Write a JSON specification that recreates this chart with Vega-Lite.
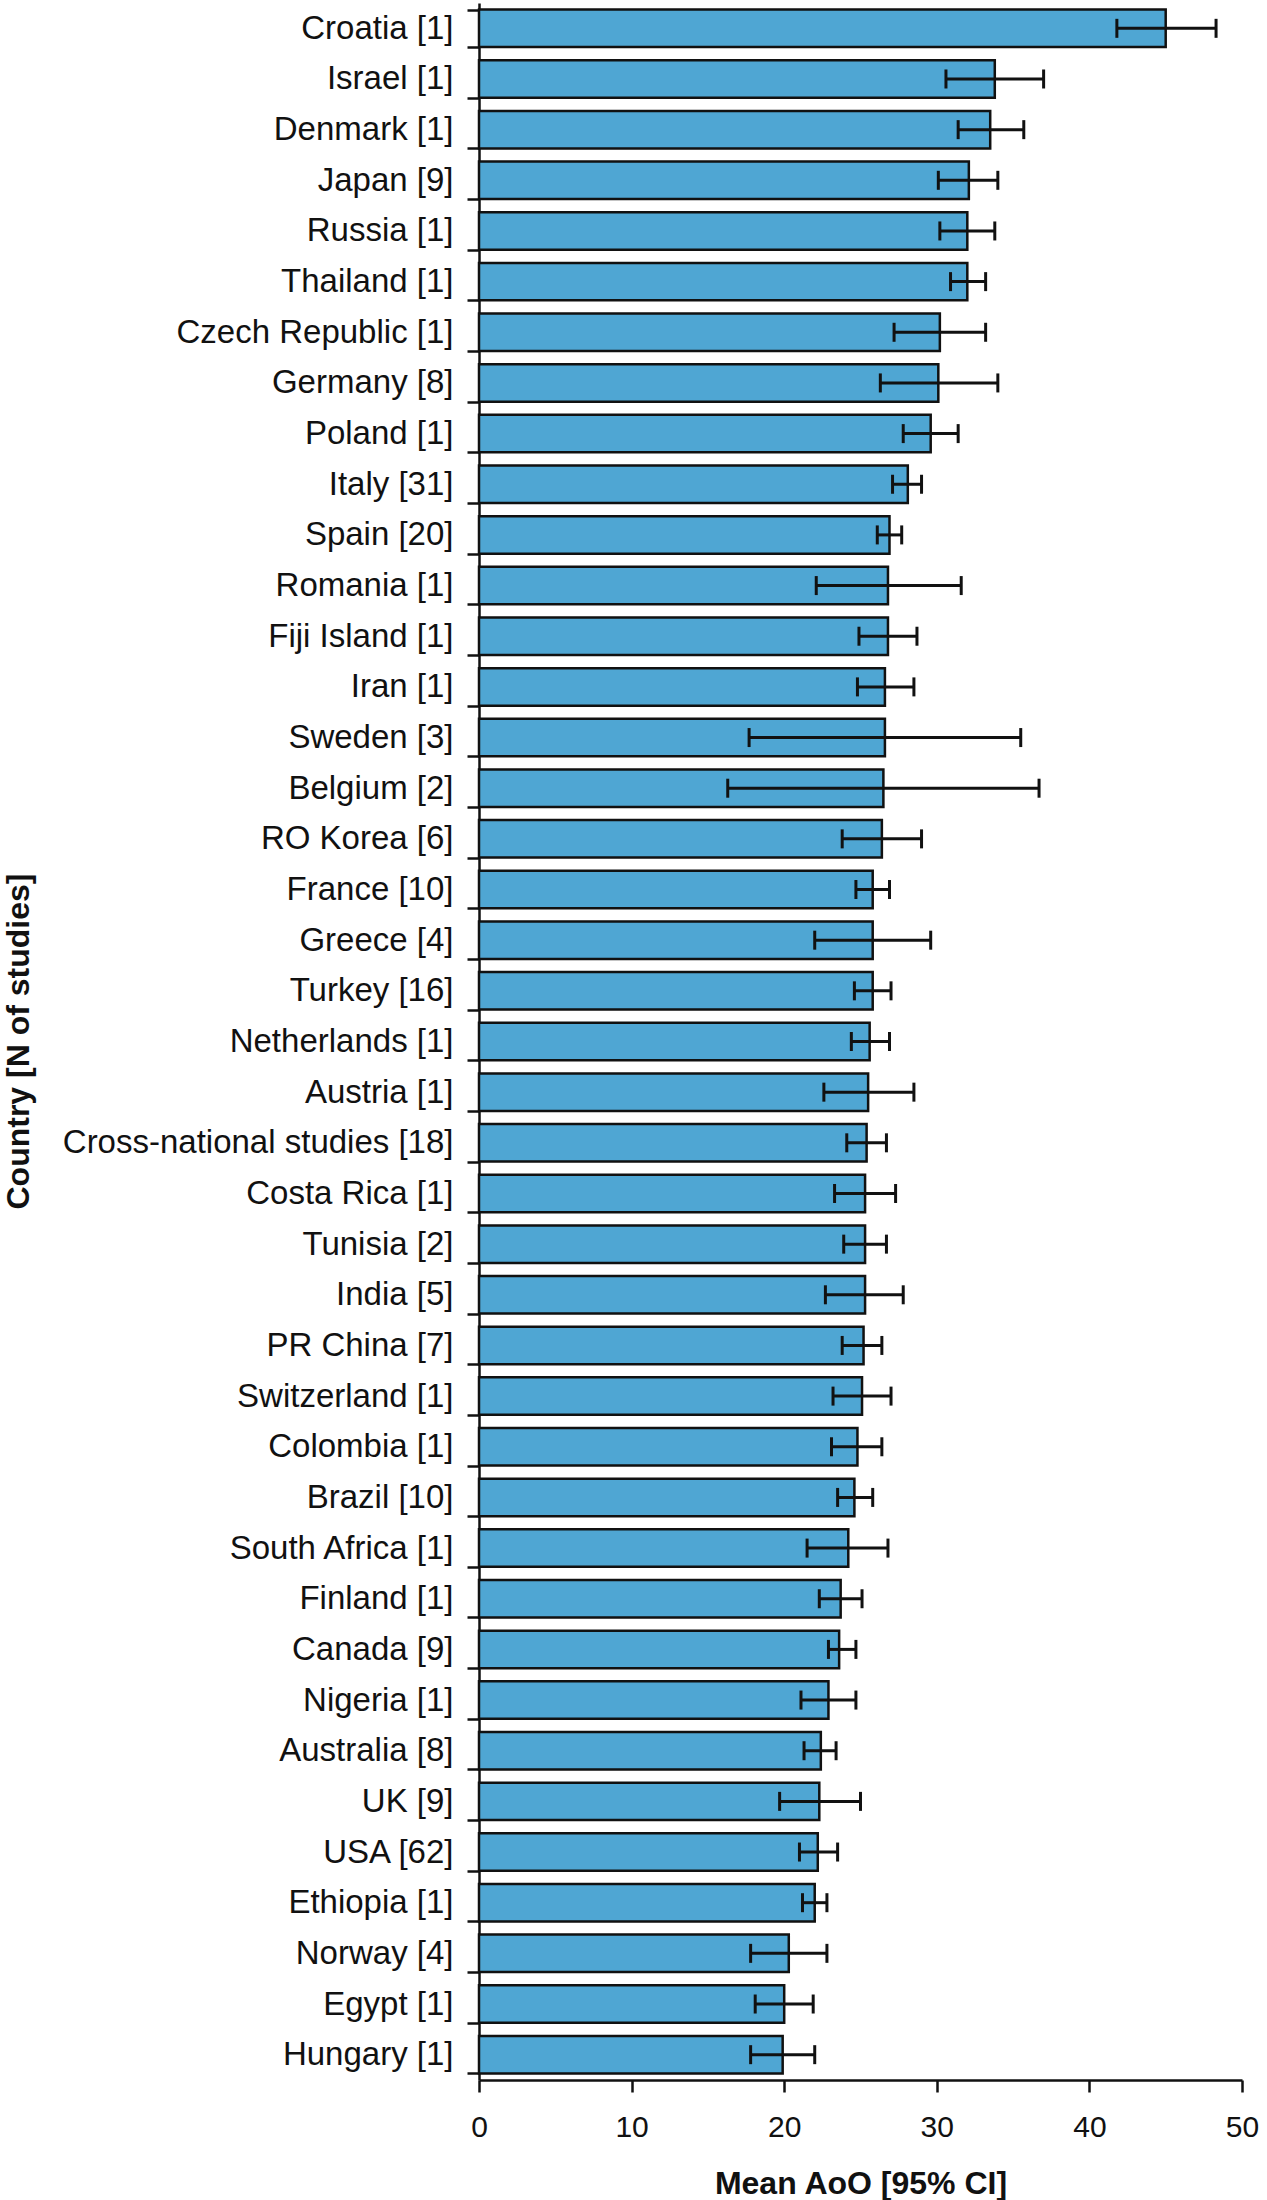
{
  "$schema": "https://vega.github.io/schema/vega-lite/v6.json",
  "width": 763,
  "height": 2077,
  "autosize": {"type": "none"},
  "padding": {"left": 479, "top": 3, "right": 25, "bottom": 120},
  "background": "white",
  "config": {"view": {"stroke": null}, "font": "Liberation Sans"},
  "data": {
    "values": [
      {"country": "Croatia [1]", "mean": 45.0, "lo": 41.8, "hi": 48.3},
      {"country": "Israel [1]", "mean": 33.8, "lo": 30.6, "hi": 37.0},
      {"country": "Denmark [1]", "mean": 33.5, "lo": 31.4, "hi": 35.7},
      {"country": "Japan [9]", "mean": 32.1, "lo": 30.1, "hi": 34.0},
      {"country": "Russia [1]", "mean": 32.0, "lo": 30.2, "hi": 33.8},
      {"country": "Thailand [1]", "mean": 32.0, "lo": 30.9, "hi": 33.2},
      {"country": "Czech Republic [1]", "mean": 30.2, "lo": 27.2, "hi": 33.2},
      {"country": "Germany [8]", "mean": 30.1, "lo": 26.3, "hi": 34.0},
      {"country": "Poland [1]", "mean": 29.6, "lo": 27.8, "hi": 31.4},
      {"country": "Italy [31]", "mean": 28.1, "lo": 27.1, "hi": 29.0},
      {"country": "Spain [20]", "mean": 26.9, "lo": 26.1, "hi": 27.7},
      {"country": "Romania [1]", "mean": 26.8, "lo": 22.1, "hi": 31.6},
      {"country": "Fiji Island [1]", "mean": 26.8, "lo": 24.9, "hi": 28.7},
      {"country": "Iran [1]", "mean": 26.6, "lo": 24.8, "hi": 28.5},
      {"country": "Sweden [3]", "mean": 26.6, "lo": 17.7, "hi": 35.5},
      {"country": "Belgium [2]", "mean": 26.5, "lo": 16.3, "hi": 36.7},
      {"country": "RO Korea [6]", "mean": 26.4, "lo": 23.8, "hi": 29.0},
      {"country": "France [10]", "mean": 25.8, "lo": 24.7, "hi": 26.9},
      {"country": "Greece [4]", "mean": 25.8, "lo": 22.0, "hi": 29.6},
      {"country": "Turkey [16]", "mean": 25.8, "lo": 24.6, "hi": 27.0},
      {"country": "Netherlands [1]", "mean": 25.6, "lo": 24.4, "hi": 26.9},
      {"country": "Austria [1]", "mean": 25.5, "lo": 22.6, "hi": 28.5},
      {"country": "Cross-national studies [18]", "mean": 25.4, "lo": 24.1, "hi": 26.7},
      {"country": "Costa Rica [1]", "mean": 25.3, "lo": 23.3, "hi": 27.3},
      {"country": "Tunisia [2]", "mean": 25.3, "lo": 23.9, "hi": 26.7},
      {"country": "India [5]", "mean": 25.3, "lo": 22.7, "hi": 27.8},
      {"country": "PR China [7]", "mean": 25.2, "lo": 23.8, "hi": 26.4},
      {"country": "Switzerland [1]", "mean": 25.1, "lo": 23.2, "hi": 27.0},
      {"country": "Colombia [1]", "mean": 24.8, "lo": 23.1, "hi": 26.4},
      {"country": "Brazil [10]", "mean": 24.6, "lo": 23.5, "hi": 25.8},
      {"country": "South Africa [1]", "mean": 24.2, "lo": 21.5, "hi": 26.8},
      {"country": "Finland [1]", "mean": 23.7, "lo": 22.3, "hi": 25.1},
      {"country": "Canada [9]", "mean": 23.6, "lo": 22.9, "hi": 24.7},
      {"country": "Nigeria [1]", "mean": 22.9, "lo": 21.1, "hi": 24.7},
      {"country": "Australia [8]", "mean": 22.4, "lo": 21.3, "hi": 23.4},
      {"country": "UK [9]", "mean": 22.3, "lo": 19.7, "hi": 25.0},
      {"country": "USA [62]", "mean": 22.2, "lo": 21.0, "hi": 23.5},
      {"country": "Ethiopia [1]", "mean": 22.0, "lo": 21.2, "hi": 22.8},
      {"country": "Norway [4]", "mean": 20.3, "lo": 17.8, "hi": 22.8},
      {"country": "Egypt [1]", "mean": 20.0, "lo": 18.1, "hi": 21.9},
      {"country": "Hungary [1]", "mean": 19.9, "lo": 17.8, "hi": 22.0}
    ]
  },
  "encoding": {
    "y": {
      "field": "country",
      "type": "nominal",
      "sort": null,
      "scale": {"paddingInner": 0.26, "paddingOuter": 0.13},
      "axis": {
        "title": "Country [N of studies]",
        "titleFont": "Liberation Sans",
        "titleFontSize": 32,
        "titleFontWeight": "bold",
        "titleColor": "#111111",
        "titleX": -461,
        "titleY": 1038,
        "titleAngle": 270,
        "titleAlign": "center",
        "titleBaseline": "middle",
        "labelFont": "Liberation Sans",
        "labelFontSize": 33,
        "labelColor": "#111111",
        "labelPadding": 14,
        "labelLimit": 0,
        "tickSize": 12,
        "tickBand": "extent",
        "tickColor": "#111111",
        "tickWidth": 2.5,
        "domainColor": "#111111",
        "domainWidth": 2.5,
        "grid": false
      }
    }
  },
  "layer": [
    {
      "mark": {"type": "bar", "fill": "#4FA6D3", "stroke": "#111111", "strokeWidth": 2.5},
      "encoding": {
        "x": {
          "field": "mean",
          "type": "quantitative",
          "scale": {"domain": [0, 50], "nice": false},
          "axis": {
            "title": "Mean AoO [95% CI]",
            "titleFont": "Liberation Sans",
            "titleFontSize": 32,
            "titleFontWeight": "bold",
            "titleColor": "#111111",
            "titleX": 381.5,
            "titleY": 103,
            "titleAlign": "center",
            "titleBaseline": "middle",
            "values": [0, 10, 20, 30, 40, 50],
            "labelFont": "Liberation Sans",
            "labelFontSize": 30,
            "labelColor": "#111111",
            "labelPadding": 20,
            "labelFlush": false,
            "tickSize": 12,
            "tickColor": "#111111",
            "tickWidth": 2.5,
            "domainColor": "#111111",
            "domainWidth": 2.5,
            "grid": false
          }
        }
      }
    },
    {
      "mark": {"type": "rule", "stroke": "#111111", "strokeWidth": 3},
      "encoding": {
        "x": {"field": "lo", "type": "quantitative"},
        "x2": {"field": "hi"}
      }
    },
    {
      "mark": {"type": "tick", "color": "#111111", "size": 19, "thickness": 3, "opacity": 1},
      "encoding": {
        "x": {"field": "lo", "type": "quantitative"}
      }
    },
    {
      "mark": {"type": "tick", "color": "#111111", "size": 19, "thickness": 3, "opacity": 1},
      "encoding": {
        "x": {"field": "hi", "type": "quantitative"}
      }
    }
  ]
}
